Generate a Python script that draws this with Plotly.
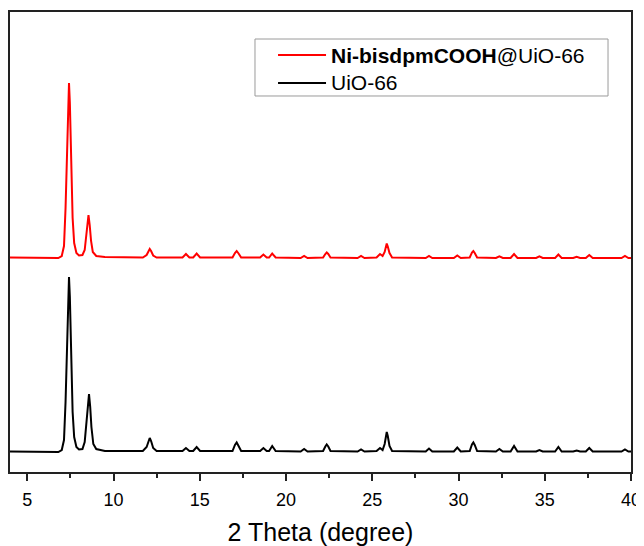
import plotly.graph_objects as go

# 2-theta (degree) and intensity (a.u.); UiO-66 pattern
uio_x = [4.0, 6.8, 7.0, 7.13, 7.22, 7.27, 7.32, 7.38, 7.42, 7.47, 7.52, 7.56, 7.63, 7.72, 7.85, 8.0,
         8.2, 8.33, 8.43, 8.5, 8.58, 8.65, 8.72, 8.83, 9.0, 9.5,
         11.7, 11.92, 12.02, 12.1, 12.18, 12.3, 12.5,
         14.0, 14.2, 14.4, 14.62, 14.82, 15.02,
         16.9, 17.04, 17.14, 17.25, 17.4, 18.5, 18.69, 18.88, 19.02, 19.2, 19.4,
         20.85, 21.05, 21.25, 22.15, 22.28, 22.36, 22.45, 22.58, 24.15, 24.35, 24.55,
         25.25, 25.45, 25.6, 25.72, 25.8, 25.84, 25.9, 26.0, 26.15, 28.1, 28.29, 28.48,
         29.73, 29.93, 30.13, 30.65, 30.78, 30.86, 30.94, 31.08, 32.17, 32.37, 32.57,
         33.02, 33.22, 33.42, 34.5, 34.69, 34.88, 35.6, 35.79, 35.98,
         36.65, 36.85, 37.05, 37.38, 37.58, 37.78, 39.45, 39.65, 39.85, 40.0]
uio_y = [20.5, 20.0, 22, 32, 70, 105, 135, 180, 195, 175, 130, 100, 60, 35, 25, 22.5,
         23, 30, 50, 68, 78, 65, 45, 28, 23, 21,
         21, 25, 31, 34, 31, 24, 21,
         21, 24, 21, 21, 25, 21,
         21, 27, 29.5, 26, 21, 21, 24, 21, 21, 26, 21,
         20.5, 23, 20.5, 21, 25.5, 27.5, 25.5, 21, 20.5, 22.5, 20.5,
         21, 24, 22, 28, 38, 40, 36, 26, 21, 20.5, 23.5, 20.5,
         20.5, 24.5, 20.5, 21, 27.5, 29.5, 27, 21, 20.5, 23, 20.5,
         20.5, 26, 20.5, 20.5, 22, 20.5, 20.5, 25, 20.5,
         20.5, 21.5, 20.5, 20.5, 24, 20.5, 20.5, 22.5, 20.5, 20.5]

# Ni-bisdpmCOOH@UiO-66 pattern (offset upward)
ni_x = [4.0, 6.8, 7.0, 7.13, 7.22, 7.27, 7.32, 7.38, 7.42, 7.47, 7.52, 7.56, 7.63, 7.72, 7.85, 8.0,
        8.2, 8.33, 8.42, 8.49, 8.55, 8.62, 8.7, 8.8, 9.0, 9.5,
        11.7, 11.92, 12.02, 12.1, 12.18, 12.3, 12.5,
        14.0, 14.2, 14.4, 14.62, 14.82, 15.02,
        16.9, 17.04, 17.14, 17.25, 17.4, 18.5, 18.69, 18.88, 19.02, 19.2, 19.4,
        20.85, 21.05, 21.25, 22.15, 22.28, 22.36, 22.45, 22.58, 24.15, 24.35, 24.55,
        25.25, 25.45, 25.6, 25.72, 25.8, 25.84, 25.9, 26.0, 26.15, 28.1, 28.29, 28.48,
        29.73, 29.93, 30.13, 30.65, 30.78, 30.86, 30.94, 31.08, 32.17, 32.37, 32.57,
        33.02, 33.22, 33.42, 34.5, 34.69, 34.88, 35.6, 35.79, 35.98,
        36.65, 36.85, 37.05, 37.38, 37.58, 37.78, 39.45, 39.65, 39.85, 40.0]
ni_y = [214.5, 214, 216, 226, 264, 299, 329, 374, 389, 369, 324, 294, 254, 229, 219, 216.5,
        217, 222, 236, 250, 257, 247, 231, 220, 216, 215,
        214.5, 217, 221, 223, 221, 216.5, 214.5,
        214.5, 218, 214.5, 214.5, 218.5, 214.5,
        214.5, 219, 221, 218.5, 214.5, 214.5, 217.5, 214.5, 214.5, 218.5, 214.5,
        214, 216, 214, 214.5, 218, 219.5, 218, 214.5, 214, 216, 214,
        214.5, 218, 216, 220, 226.5, 228.5, 225.5, 219, 214.5, 214, 216, 214,
        214, 216.5, 214, 214.5, 219.5, 221, 219, 214.5, 214, 215.7, 214,
        214, 218, 214, 214, 215.7, 214, 214, 217.5, 214,
        214, 215.3, 214, 214, 217, 214, 214, 216, 214, 214]

series_names = ["<b>Ni-bisdpmCOOH</b>@UiO-66", "UiO-66"]
series_colors = ["#ff0000", "#000000"]

x_range = [4, 40]
y_range = [0, 460]
x_ticks = [5, 10, 15, 20, 25, 30, 35, 40]

fig = go.Figure()
fig.add_trace(go.Scatter(x=ni_x, y=ni_y, mode="lines", name=series_names[0],
                         line=dict(color=series_colors[0], width=2)))
fig.add_trace(go.Scatter(x=uio_x, y=uio_y, mode="lines", name=series_names[1],
                         line=dict(color=series_colors[1], width=2)))

# hand-placed legend box (paper coordinates of the plot area)
fig.add_shape(type="rect", xref="paper", yref="paper",
              x0=0.3945, x1=0.9630, y0=0.8174, y1=0.9413,
              line=dict(color="#9a9a9a", width=1), fillcolor="white", layer="above")
for i, (nm, col) in enumerate(zip(series_names, series_colors)):
    yy = 0.9065 - i * 0.0608
    fig.add_shape(type="line", xref="paper", yref="paper",
                  x0=0.4316, x1=0.5089, y0=yy, y1=yy,
                  line=dict(color=col, width=2), layer="above")
    fig.add_annotation(xref="paper", yref="paper", x=0.5137, y=yy,
                       xanchor="left", yanchor="middle", showarrow=False,
                       text=nm, font=dict(size=21, color="black"))

fig.update_layout(
    width=636, height=538,
    margin=dict(l=2, r=13, t=4, b=74, autoexpand=False),
    paper_bgcolor="white", plot_bgcolor="white",
    font=dict(family="Arial, Liberation Sans, sans-serif", color="black"),
    showlegend=False,
    xaxis=dict(range=x_range, tickvals=x_ticks, ticks="outside", ticklen=7,
               tickwidth=1.5, tickcolor="#222", showline=True, linecolor="#222",
               linewidth=1.5, mirror=True, showgrid=False, zeroline=False,
               automargin=False, ticklabelstandoff=4,
               tickfont=dict(size=18),
               minor=dict(dtick=2.5, tick0=2.5, ticks="outside", ticklen=4,
                          tickwidth=1.5, tickcolor="#222", showgrid=False),
               title=dict(text="2 Theta (degree)", font=dict(size=25), standoff=24)),
    yaxis=dict(range=y_range, showticklabels=False, ticks="", showline=True,
               linecolor="#222", linewidth=1.5, mirror=True, showgrid=False,
               zeroline=False, automargin=False),
)

fig.write_html("out.html")
